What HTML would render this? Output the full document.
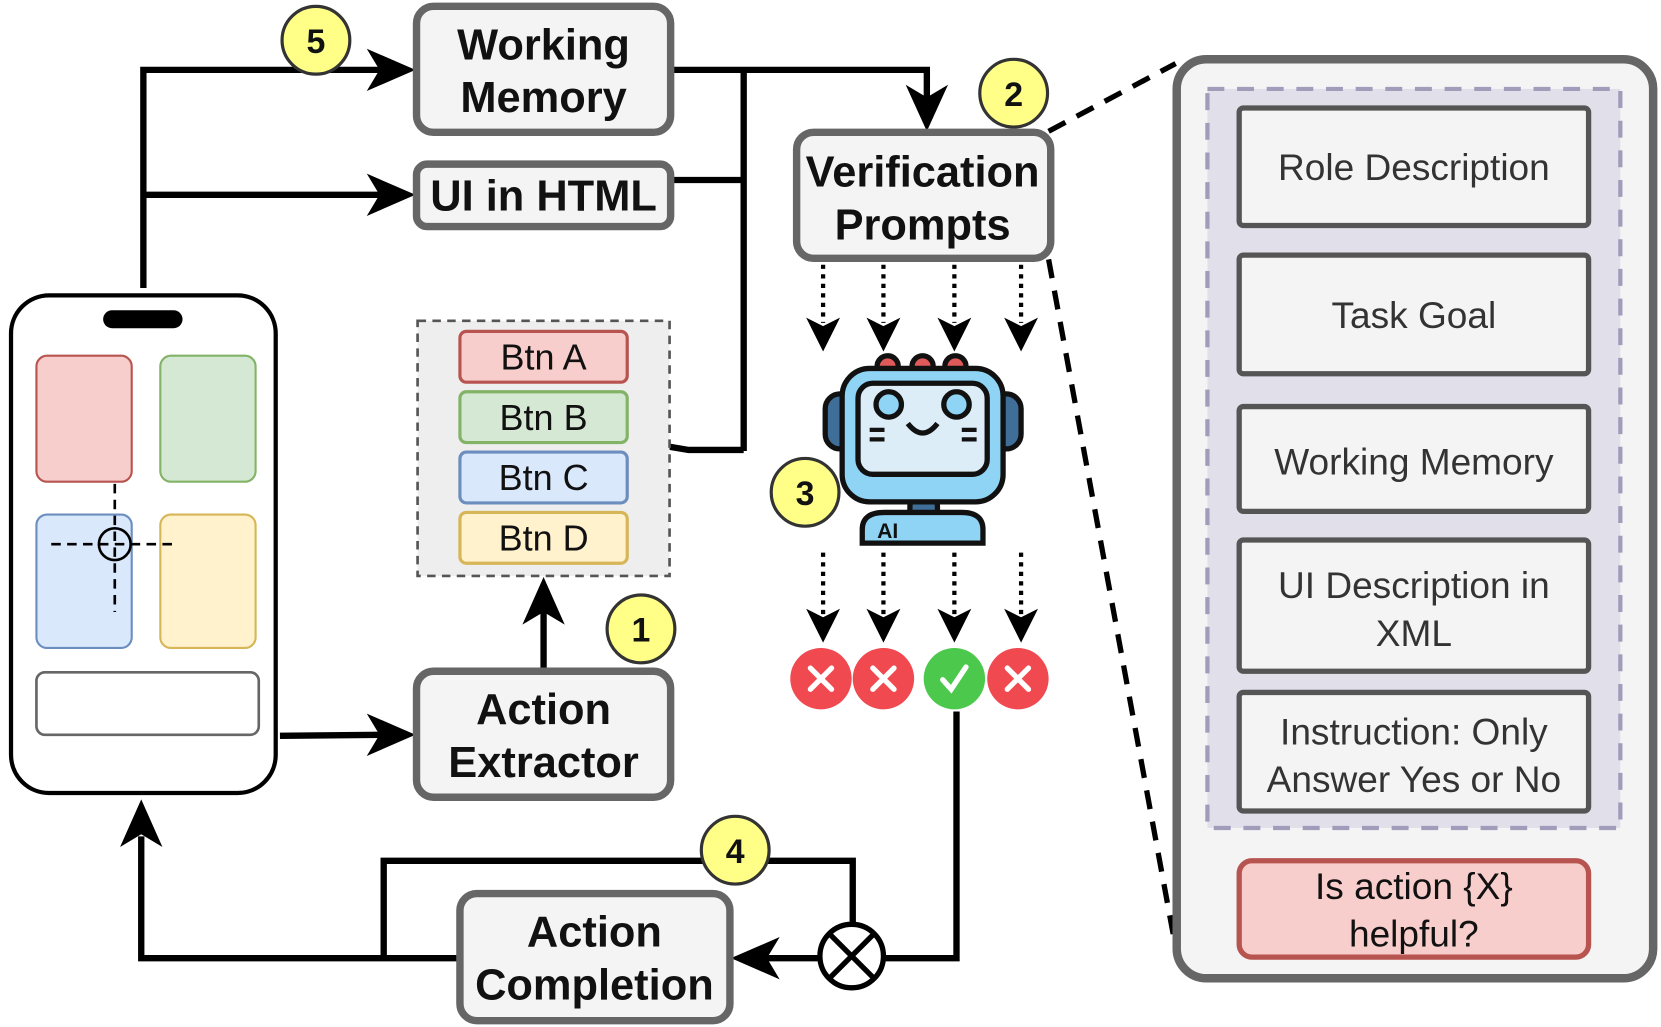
<!DOCTYPE html>
<html><head><meta charset="utf-8"><style>
html,body{margin:0;padding:0;background:#fff;}
svg{display:block;}
text{font-family:"Liberation Sans",Arial,sans-serif;}
.b{font-weight:bold;font-size:41px;fill:#111;text-anchor:middle;}
.r{font-size:35px;fill:#333;text-anchor:middle;}
.btn{font-size:34px;fill:#111;text-anchor:middle;}
.badge{font-weight:bold;font-size:32px;fill:#111;text-anchor:middle;}
</style></head><body>
<svg width="1661" height="1027" viewBox="0 0 1568 970" xmlns="http://www.w3.org/2000/svg">
<!-- connectors -->
<g stroke="#000" stroke-width="6" fill="none">
<polyline points="135,272 135,66 360,66"/>
<line x1="135" y1="184" x2="360" y2="184"/>
<polyline points="634,66 875,66 875,98"/>
<polyline points="634,170 702,170"/>
<line x1="702" y1="66" x2="702" y2="426"/>
<polyline points="632,422 650,425 702,425"/>
<line x1="264" y1="695" x2="360" y2="694"/>
<line x1="513" y1="633" x2="513" y2="575"/>
<polyline points="903,672 903,905 835,905"/>
<line x1="772" y1="905" x2="720" y2="905"/>
<polyline points="805,873 805,813 362,813 362,905"/>
<polyline points="433,905 133,905 133,790"/>
</g>
<g fill="#000">
<polygon points="392,66 346,46 358,66 346,86"/>
<polygon points="392,184 346,164 358,184 346,204"/>
<polygon points="875,124 855,80 875,92 895,80"/>
<polygon points="392,694 346,674 358,694 346,714"/>
<polygon points="513,545 493,590 513,578 533,590"/>
<polygon points="690,905 736,885 724,905 736,925"/>
<polygon points="133,755 113,800 133,788 153,800"/>
</g>
<!-- dotted arrows -->
<g stroke="#000" stroke-width="4" stroke-dasharray="4,5" fill="none">
<line x1="777" y1="250" x2="777" y2="305"/>
<line x1="834" y1="250" x2="834" y2="305"/>
<line x1="901" y1="250" x2="901" y2="305"/>
<line x1="964" y1="250" x2="964" y2="305"/>
<line x1="777" y1="522" x2="777" y2="580"/>
<line x1="834" y1="522" x2="834" y2="580"/>
<line x1="901" y1="522" x2="901" y2="580"/>
<line x1="964" y1="522" x2="964" y2="580"/>
</g>
<g fill="#000">
<polygon points="777,332 761,300 777,308 793,300"/>
<polygon points="834,332 818,300 834,308 850,300"/>
<polygon points="901,332 885,300 901,308 917,300"/>
<polygon points="964,332 948,300 964,308 980,300"/>
<polygon points="777,607 761,575 777,583 793,575"/>
<polygon points="834,607 818,575 834,583 850,575"/>
<polygon points="901,607 885,575 901,583 917,575"/>
<polygon points="964,607 948,575 964,583 980,575"/>
</g>
<!-- dashed zoom lines -->
<g stroke="#000" stroke-width="5" stroke-dasharray="18,12" fill="none">
<line x1="990" y1="124" x2="1110" y2="60"/>
<line x1="990" y1="245" x2="1110" y2="895"/>
</g>
<!-- boxes -->
<g fill="#f4f4f4" stroke="#666" stroke-width="7">
<rect x="393" y="6" width="240" height="119" rx="16"/>
<rect x="393" y="155" width="240" height="59" rx="10"/>
<rect x="752" y="125" width="240" height="119" rx="16"/>
<rect x="393" y="634" width="240" height="119" rx="16"/>
<rect x="434" y="844" width="255" height="120" rx="16"/>
</g>
<text class="b" x="513" y="56">Working</text>
<text class="b" x="513" y="106">Memory</text>
<text class="b" x="513" y="199">UI in HTML</text>
<text class="b" x="871" y="176">Verification</text>
<text class="b" x="871" y="226">Prompts</text>
<text class="b" x="513" y="684">Action</text>
<text class="b" x="513" y="734">Extractor</text>
<text class="b" x="561" y="894">Action</text>
<text class="b" x="561" y="944">Completion</text>
<!-- phone -->
<rect x="10" y="279" width="250" height="470" rx="36" fill="#fff" stroke="#000" stroke-width="4"/>
<rect x="97" y="293" width="75" height="17" rx="8.5" fill="#000"/>
<rect x="34" y="336" width="90" height="119" rx="10" fill="#f8cecc" stroke="#b85450" stroke-width="2"/>
<rect x="151" y="336" width="90" height="119" rx="10" fill="#d5e8d4" stroke="#82b366" stroke-width="2"/>
<rect x="34" y="486" width="90" height="126" rx="10" fill="#dae8fc" stroke="#6c8ebf" stroke-width="2"/>
<rect x="151" y="486" width="90" height="126" rx="10" fill="#fff2cc" stroke="#d6b656" stroke-width="2"/>
<rect x="34" y="635" width="210" height="59" rx="8" fill="#fff" stroke="#666" stroke-width="2.5"/>
<g stroke="#000" stroke-width="2.5" fill="none" stroke-dasharray="9,6">
<line x1="48" y1="514" x2="168" y2="514"/>
<line x1="108" y1="457" x2="108" y2="578"/>
</g>
<circle cx="108" cy="514" r="15" fill="none" stroke="#000" stroke-width="2.5"/>
<!-- buttons -->
<rect x="394" y="303" width="238" height="241" fill="#eeeeee" stroke="#555" stroke-width="2.5" stroke-dasharray="8,6"/>
<rect x="434" y="313" width="158" height="48" rx="6" fill="#f8cecc" stroke="#b85450" stroke-width="3"/>
<rect x="434" y="370" width="158" height="48" rx="6" fill="#d5e8d4" stroke="#82b366" stroke-width="3"/>
<rect x="434" y="427" width="158" height="48" rx="6" fill="#dae8fc" stroke="#6c8ebf" stroke-width="3"/>
<rect x="434" y="484" width="158" height="48" rx="6" fill="#fff2cc" stroke="#d6b656" stroke-width="3"/>
<text class="btn" x="513" y="349">Btn A</text>
<text class="btn" x="513" y="406">Btn B</text>
<text class="btn" x="513" y="463">Btn C</text>
<text class="btn" x="513" y="520">Btn D</text>
<!-- robot -->
<g stroke="#111" stroke-width="5">
<circle cx="838" cy="346" r="10" fill="#e05a5a"/>
<circle cx="871" cy="346" r="10" fill="#e05a5a"/>
<circle cx="902" cy="346" r="10" fill="#e05a5a"/>
<rect x="779" y="372" width="30" height="52" rx="14" fill="#3f6e98"/>
<rect x="934" y="372" width="30" height="52" rx="14" fill="#3f6e98"/>
<rect x="859" y="470" width="26" height="22" rx="8" fill="#3f6e98"/>
<path d="M814,513 L814,500 Q814,484 835,484 L908,484 Q928,484 928,500 L928,513 Z" fill="#8fd3f5"/>
<rect x="795" y="348" width="152" height="126" rx="26" fill="#8fd3f5"/>
<rect x="810" y="362" width="122" height="86" rx="14" fill="#dcedf8"/>
<circle cx="839" cy="382" r="12" fill="#8fd3f5"/>
<circle cx="903" cy="382" r="12" fill="#8fd3f5"/>
<path d="M857,400 Q871,418 885,400" fill="none"/>
<g stroke-width="4"><line x1="821" y1="406" x2="835" y2="406"/><line x1="821" y1="415" x2="835" y2="415"/><line x1="908" y1="406" x2="922" y2="406"/><line x1="908" y1="415" x2="922" y2="415"/></g>
</g>
<text x="838" y="508" font-size="20" font-weight="bold" text-anchor="middle" fill="#111">AI</text>
<!-- result circles -->
<g>
<circle cx="775" cy="641" r="29" fill="#f04a50"/>
<circle cx="834" cy="641" r="29" fill="#f04a50"/>
<circle cx="901" cy="641" r="29" fill="#4cc94c"/>
<circle cx="961" cy="641" r="29" fill="#f04a50"/>
<g stroke="#fff" stroke-width="5" stroke-linecap="round">
<path d="M765,631 L785,651 M785,631 L765,651"/>
<path d="M824,631 L844,651 M844,631 L824,651"/>
<path d="M951,631 L971,651 M971,631 L951,651"/>
<path d="M890,642 L898,651 L912,630" fill="none"/>
</g>
</g>
<!-- otimes -->
<circle cx="804" cy="903" r="30" fill="#fff" stroke="#000" stroke-width="5"/>
<path d="M783,882 L825,924 M825,882 L783,924" stroke="#000" stroke-width="5"/>
<!-- badges -->
<g fill="#ffff88" stroke="#333" stroke-width="3">
<circle cx="298" cy="38" r="32"/>
<circle cx="957" cy="88" r="32"/>
<circle cx="760" cy="465" r="32"/>
<circle cx="605" cy="594" r="32"/>
<circle cx="694" cy="803" r="32"/>
</g>
<text class="badge" x="298" y="50">5</text>
<text class="badge" x="957" y="100">2</text>
<text class="badge" x="760" y="477">3</text>
<text class="badge" x="605" y="606">1</text>
<text class="badge" x="694" y="815">4</text>
<!-- right panel -->
<rect x="1111" y="56" width="450" height="868" rx="28" fill="#f4f4f4" stroke="#666" stroke-width="8"/>
<rect x="1140" y="84" width="390" height="698" fill="#e1dfea" stroke="#a09cba" stroke-width="4" stroke-dasharray="16,12"/>
<g fill="#f4f4f4" stroke="#555" stroke-width="5">
<rect x="1170" y="102" width="330" height="111" rx="4"/>
<rect x="1170" y="241" width="330" height="112" rx="4"/>
<rect x="1170" y="384" width="330" height="99" rx="4"/>
<rect x="1170" y="510" width="330" height="124" rx="4"/>
<rect x="1170" y="654" width="330" height="112" rx="4"/>
</g>
<rect x="1170" y="813" width="330" height="91" rx="12" fill="#f8cecc" stroke="#b85450" stroke-width="5"/>
<text class="r" x="1335" y="170">Role Description</text>
<text class="r" x="1335" y="310">Task Goal</text>
<text class="r" x="1335" y="448">Working Memory</text>
<text class="r" x="1335" y="565">UI Description in</text>
<text class="r" x="1335" y="610">XML</text>
<text class="r" x="1335" y="703">Instruction: Only</text>
<text class="r" x="1335" y="748">Answer Yes or No</text>
<text class="r" x="1335" y="849" style="fill:#111">Is action {X}</text>
<text class="r" x="1335" y="894" style="fill:#111">helpful?</text>
</svg>
</body></html>
